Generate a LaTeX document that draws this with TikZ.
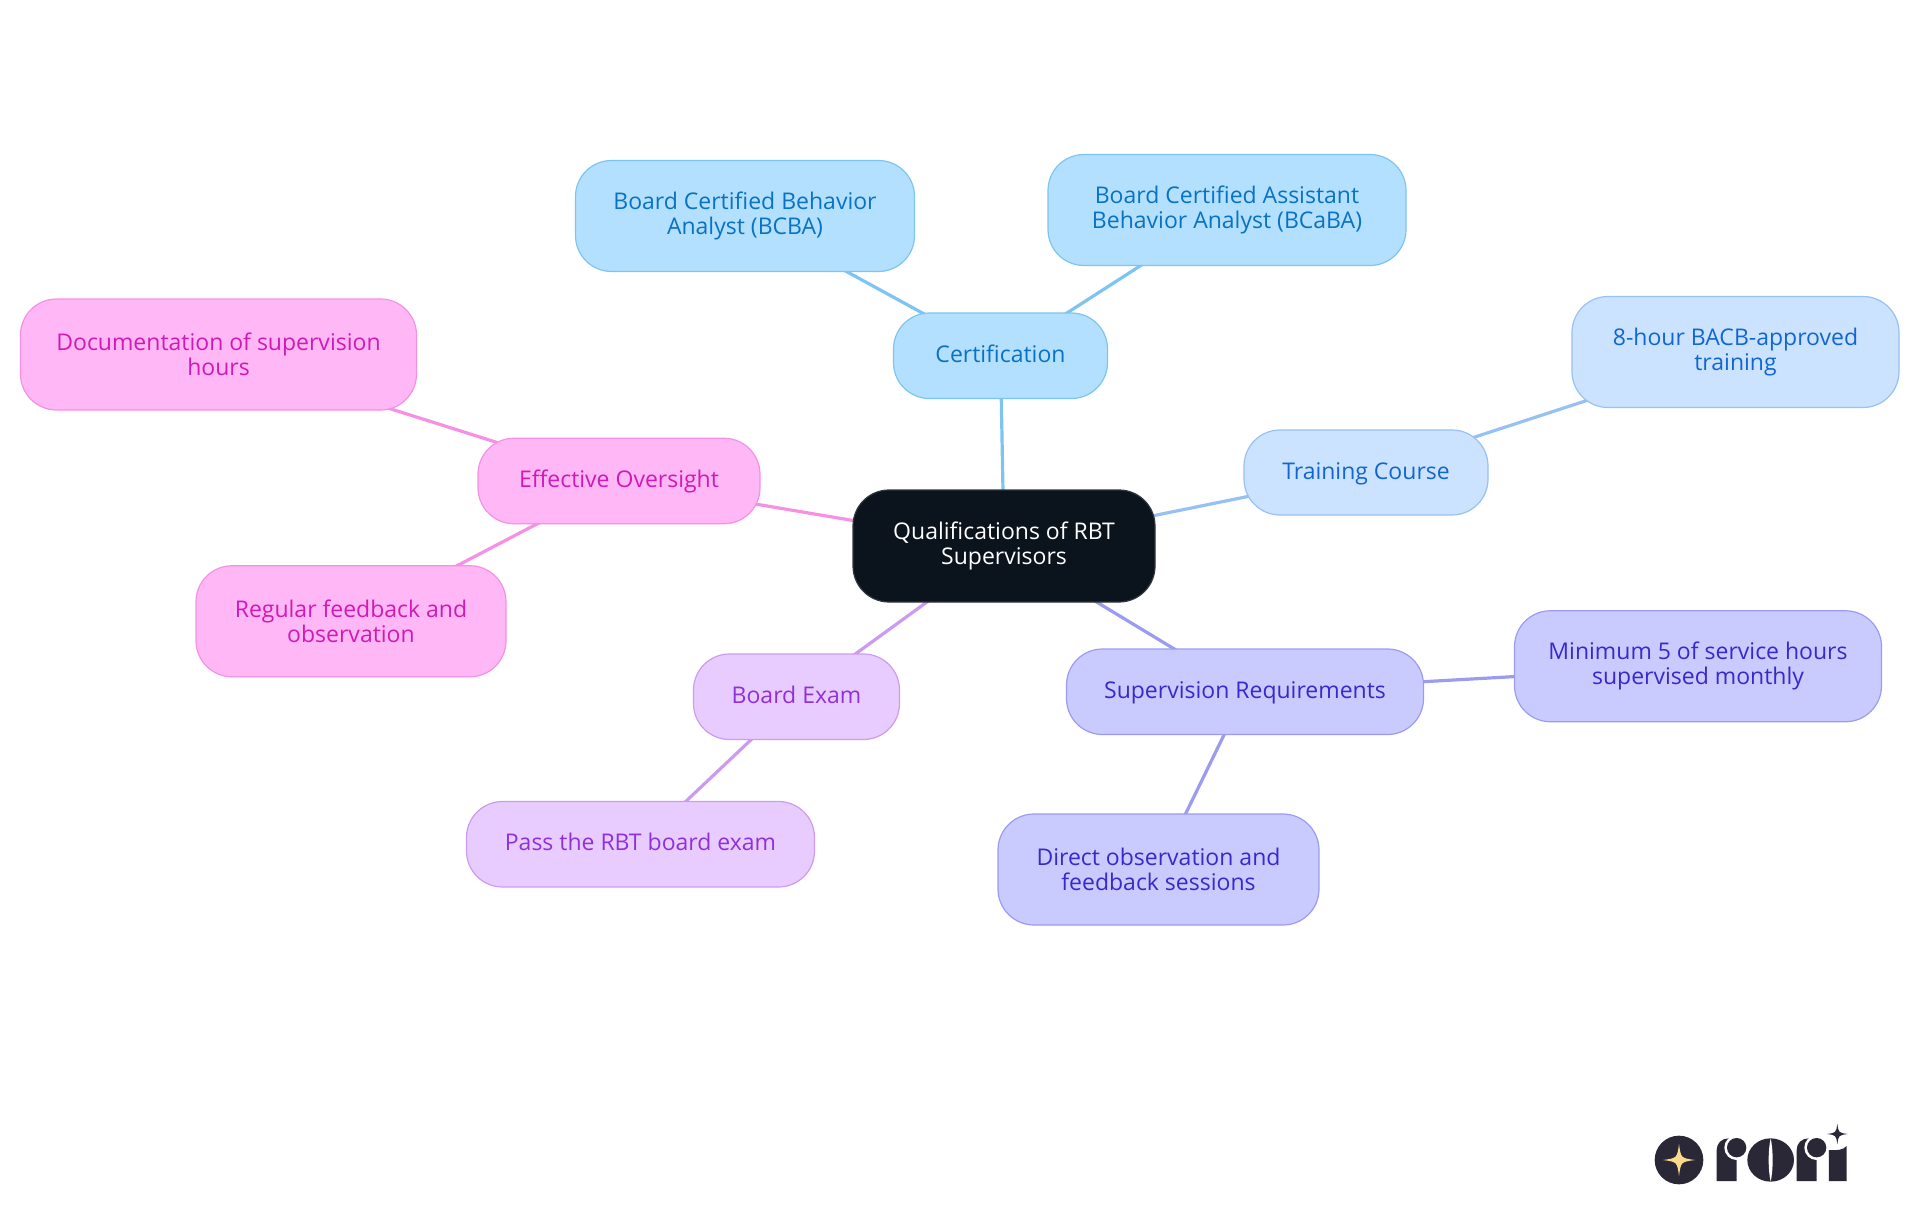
\documentclass[tikz,border=0pt]{standalone}
\usepackage{fontspec}
\setmainfont{Open Sans}
\usetikzlibrary{positioning}
\usetikzlibrary{backgrounds}
\definecolor{rootfill}{HTML}{0B131C}
\definecolor{certfill}{HTML}{B3E0FF}
\definecolor{certline}{HTML}{7DC4F2}
\definecolor{certtext}{HTML}{0A72C2}
\definecolor{trainfill}{HTML}{CCE3FF}
\definecolor{trainline}{HTML}{97C1F2}
\definecolor{traintext}{HTML}{1166D4}
\definecolor{superfill}{HTML}{C9CBFF}
\definecolor{superline}{HTML}{9B9BF2}
\definecolor{supertext}{HTML}{3A28CC}
\definecolor{examfill}{HTML}{E8CCFF}
\definecolor{examline}{HTML}{CC9BF0}
\definecolor{examtext}{HTML}{9030DB}
\definecolor{overfill}{HTML}{FFB8F5}
\definecolor{overline}{HTML}{F590E5}
\definecolor{overtext}{HTML}{D01AB4}
\definecolor{logoink}{HTML}{2A2836}
\definecolor{logostar}{HTML}{FBD98C}
\tikzset{
  mapnode/.style={rectangle, rounded corners=36pt, line width=1.2pt, outer sep=0pt, align=center, inner sep=0pt,
    font=\fontsize{23}{25}\selectfont},
  rootnode/.style={mapnode, fill=rootfill, draw=rootfill!85!white, text=white, minimum width=302pt, minimum height=112pt},
  certnode/.style={mapnode, fill=certfill, draw=certline, text=certtext},
  trainnode/.style={mapnode, fill=trainfill, draw=trainline, text=traintext},
  supernode/.style={mapnode, fill=superfill, draw=superline, text=supertext},
  examnode/.style={mapnode, fill=examfill, draw=examline, text=examtext},
  overnode/.style={mapnode, fill=overfill, draw=overline, text=overtext},
  size/.style n args={2}{minimum width=#1pt, minimum height=#2pt},
  oneline/.style={text height=18pt, text depth=5pt},
  branch/.style={line width=3.2pt},
}
\newcommand{\fourstar}[3]{
  (#1,#2-#3) .. controls (#1+0.12*#3,#2-0.12*#3) .. (#1+#3,#2)
  .. controls (#1+0.12*#3,#2+0.12*#3) .. (#1,#2+#3)
  .. controls (#1-0.12*#3,#2+0.12*#3) .. (#1-#3,#2)
  .. controls (#1-0.12*#3,#2-0.12*#3) .. cycle
}
\begin{document}
\begin{tikzpicture}[x=1pt, y=-1pt]
      \useasboundingbox (0,0) rectangle (1920,1215);

      \node [rootnode] (root) at (1004,546) {Qualifications of RBT\\Supervisors};

      \node [certnode, oneline, size={214}{85.5}, above=91.5pt of root, xshift=-3.5pt] (cert) {Certification};
      \node [certnode, size={339}{111}, above=41.5pt of cert, xshift=-255.5pt] (bcba) {Board Certified Behavior\\Analyst (BCBA)};
      \node [certnode, size={358}{111}, above=47.5pt of cert, xshift=226.5pt] (bcaba) {Board Certified Assistant\\Behavior Analyst (BCaBA)};

      \node [trainnode, oneline, size={244}{85}, right=89pt of root, yshift=73.5pt] (train) {Training Course};
      \node [trainnode, size={327}{111}, right=84pt of train, yshift=120.5pt] (hours) {8-hour BACB-approved\\training};

      \node [supernode, oneline, size={357}{85.5}, below=47pt of root, xshift=241pt] (super) {Supervision Requirements};
      \node [supernode, size={367}{111}, right=91pt of super, yshift=25.5pt] (monthly) {Minimum 5 of service hours\\supervised monthly};
      \node [supernode, size={321}{111}, below=79.5pt of super, xshift=-86.5pt] (direct) {Direct observation and\\feedback sessions};

      \node [examnode, oneline, size={206}{85.5}, below=52pt of root, xshift=-207.5pt] (exam) {Board Exam};
      \node [examnode, oneline, size={348}{85.5}, below=62pt of exam, xshift=-156pt] (pass) {Pass the RBT board exam};

      \node [overnode, oneline, size={282}{85.5}, left=93pt of root, yshift=65pt] (over) {Effective Oversight};
      \node [overnode, size={396}{111}, left=61.5pt of over, yshift=126.5pt] (docs) {Documentation of supervision\\hours};
      \node [overnode, size={310}{111}, below=42pt of over, xshift=-268pt] (feedback) {Regular feedback and\\observation};

      \begin{scope}[on background layer]
        \draw [branch, certline] (root.center) -- (cert.center);
        \draw [branch, certline] (cert.center) -- (bcba.center);
        \draw [branch, certline] (cert.center) -- (bcaba.center);
        \draw [branch, trainline] (root.center) -- (train.center);
        \draw [branch, trainline] (train.center) -- (hours.center);
        \draw [branch, superline] (root.center) -- (super.center);
        \draw [branch, superline] (super.center) -- (monthly.center);
        \draw [branch, superline] (super.center) -- (direct.center);
        \draw [branch, examline] (root.center) -- (exam.center);
        \draw [branch, examline] (exam.center) -- (pass.center);
        \draw [branch, overline] (root.center) -- (over.center);
        \draw [branch, overline] (over.center) -- (docs.center);
        \draw [branch, overline] (over.center) -- (feedback.center);
      \end{scope}

      \begin{scope}[shift={(1620,1100)}, x=0.3333pt, y=-0.3333pt]
        \fill [logoink] (177,180) circle [radius=73];
        \fill [logostar] \fourstar{177}{180}{48};
        \fill [logoink] (290,243) -- (290,150) .. controls (290,130) and (305,115) .. (326,115) -- (350,115) -- (350,243) -- cycle;
        \fill [white] (350,143) circle [radius=37];
        \fill [logoink] (350,143) circle [radius=29];
        \fill [logoink] (452,180) ellipse [x radius=70, y radius=65];
        \fill [white] (452,115) .. controls (444,150) and (444,210) .. (452,245) .. controls (460,210) and (460,150) .. (452,115) -- cycle;
        \fill [logoink] (530,243) -- (530,150) .. controls (530,130) and (545,115) .. (566,115) -- (590,115) -- (590,243) -- cycle;
        \fill [white] (590,143) circle [radius=37];
        \fill [logoink] (590,143) circle [radius=29];
        \fill [logoink] (627,243) -- (627,150) .. controls (650,152) and (670,150) .. (680,138) -- (680,243) -- cycle;
        \fill [logoink] \fourstar{652}{102}{31};
      \end{scope}
    \end{tikzpicture}
\end{document}
